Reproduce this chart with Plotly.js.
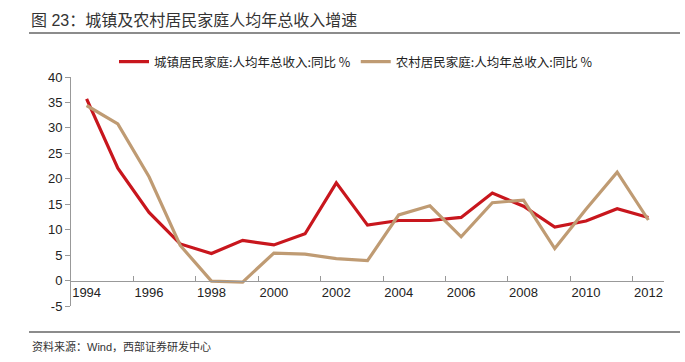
<!DOCTYPE html>
<html>
<head>
<meta charset="utf-8">
<script src="https://cdn.plot.ly/plotly-3.0.1.min.js"></script>
<style>html,body{margin:0;padding:0;background:#fff;}#chart{width:685px;height:362px;}</style>
</head>
<body>
<div id="chart"></div>
<script>
const years = [1994,1995,1996,1997,1998,1999,2000,2001,2002,2003,2004,2005,2006,2007,2008,2009,2010,2011,2012];
const urban = [35.7,22.1,13.4,7.2,5.3,7.9,7.0,9.2,19.2,10.9,11.8,11.8,12.4,17.2,14.6,10.5,11.7,14.1,12.4];
const rural = [34.4,30.8,20.4,6.9,-0.1,-0.3,5.4,5.2,4.3,3.9,12.9,14.7,8.6,15.3,15.8,6.3,14.0,21.3,11.9];
const urbanName = "城镇居民家庭:人均年总收入:同比 %";
const ruralName = "农村居民家庭:人均年总收入:同比 %";
const xLabelVals = [1994,1996,1998,2000,2002,2004,2006,2008,2010,2012];
const xLabelText = ["1994","1996","1998","2000","2002","2004","2006","2008","2010","2012"];
const xTickVals = [1995.5,1997.5,1999.5,2001.5,2003.5,2005.5,2007.5,2009.5,2011.5];
const yTickVals = [-5,0,5,10,15,20,25,30,35,40];
const yTickText = ["-5","0","5","10","15","20","25","30","35","40"];
const titleText = "图 23：城镇及农村居民家庭人均年总收入增速";
const sourceText = "资料来源：Wind，西部证券研发中心";

const W = 685, H = 362;
const M = {l:71, r:21, t:77, b:56};
const pw = W - M.l - M.r, ph = H - M.t - M.b;
const px = x => (x - M.l) / pw;
const py = y => (H - M.b - y) / ph;
const yMin = -5, yMax = 40;
const xRange = [1993.5, 2012.5];

const fontCJK = "'Liberation Sans', Arial, 'Noto Sans CJK SC', sans-serif";

const data = [
  {x: years, y: urban, name: urbanName, type:'scatter', mode:'lines',
   line:{color:'#C8161D', width:3.2}, xaxis:'x', yaxis:'y'},
  {x: years, y: rural, name: ruralName, type:'scatter', mode:'lines',
   line:{color:'#BF9B73', width:3.2}, xaxis:'x', yaxis:'y'},
  {x: [], y: [], xaxis:'x2', yaxis:'y', showlegend:false, hoverinfo:'skip', type:'scatter', mode:'lines'}
];

const axisPos = (0 - yMin) / (yMax - yMin);

const layout = {
  width: W, height: H,
  margin: M,
  paper_bgcolor:'#fff', plot_bgcolor:'#fff',
  font:{family: fontCJK, color:'#222'},
  title:{text: titleText, font:{size:16, color:'#333', family: fontCJK},
         x: 31/W, xref:'container', xanchor:'left', y: 1 - 20/H, yref:'container', yanchor:'middle'},
  showlegend:true,
  legend:{orientation:'h', x: px(114), xanchor:'left', y: py(62), yanchor:'middle',
          font:{size:12.5, color:'#222', family:"'Noto Sans CJK SC', sans-serif"}, itemwidth:30,
          bgcolor:'rgba(0,0,0,0)'},
  xaxis:{range: xRange, anchor:'free', position: axisPos, showgrid:false, zeroline:false,
         showline:true, linecolor:'#999', linewidth:1,
         tickmode:'array', tickvals: xLabelVals, ticktext: xLabelText, ticks:'',
         tickfont:{size:13, color:'#222', family:"'Liberation Sans', Arial, sans-serif"}},
  xaxis2:{overlaying:'x', matches:'x', range: xRange, anchor:'free', position: axisPos,
          showgrid:false, zeroline:false, showline:false, showticklabels:false,
          tickmode:'array', tickvals: xTickVals, ticks:'inside', ticklen:5, tickcolor:'#999', tickwidth:1},
  yaxis:{range:[yMin, yMax], showgrid:false, zeroline:false, showline:true, linecolor:'#999', linewidth:1,
         tickmode:'array', tickvals: yTickVals, ticktext: yTickText, ticks:'outside', ticklen:5, tickcolor:'#999',
         tickfont:{size:13, color:'#222', family:"'Liberation Sans', Arial, sans-serif"}},
  shapes:[
    {type:'line', xref:'paper', yref:'paper', x0: px(29), x1: px(680), y0: py(33), y1: py(33), line:{color:'#666', width:1.5}},
    {type:'line', xref:'paper', yref:'paper', x0: px(29), x1: px(680), y0: py(332), y1: py(332), line:{color:'#666', width:1.5}}
  ],
  annotations:[
    {text: sourceText, xref:'paper', yref:'paper', x: px(30), y: py(346), xanchor:'left', yanchor:'middle',
     showarrow:false, font:{size:11, color:'#333', family: fontCJK}}
  ]
};

Plotly.newPlot('chart', data, layout, {displayModeBar:false, staticPlot:true});
</script>
</body>
</html>
